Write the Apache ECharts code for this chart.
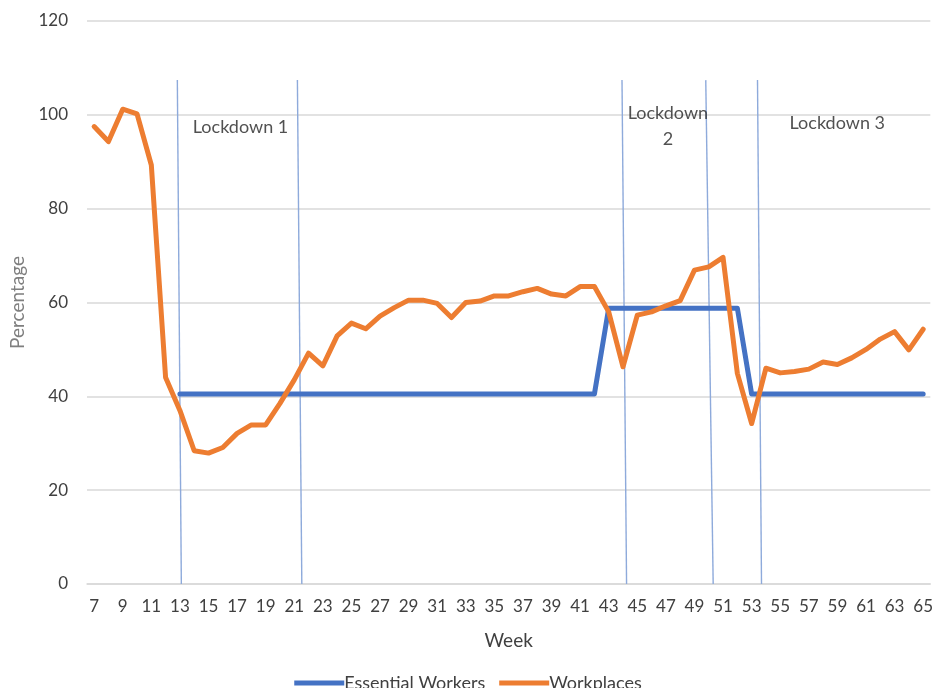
<!DOCTYPE html>
<html>
<head>
<meta charset="utf-8">
<script src="https://cdn.jsdelivr.net/npm/echarts@6/dist/echarts.min.js"></script>
<style>
  html, body { margin: 0; padding: 0; background: #fff; }
  #chart { width: 936px; height: 688px; }
</style>
</head>
<body>
<div id="chart"></div>
<script>
// Weeks shown on the category axis
const weeks = [];
for (let w = 7; w <= 65; w++) weeks.push(String(w));

// Essential workers share (flat levels, absent before week 13)
const essentialWorkers = [
  // weeks 7-12
  null, null, null, null, null, null,
  // weeks 13-42
  40.5, 40.5, 40.5, 40.5, 40.5, 40.5, 40.5, 40.5, 40.5, 40.5,
  40.5, 40.5, 40.5, 40.5, 40.5, 40.5, 40.5, 40.5, 40.5, 40.5,
  40.5, 40.5, 40.5, 40.5, 40.5, 40.5, 40.5, 40.5, 40.5, 40.5,
  // weeks 43-52
  58.8, 58.8, 58.8, 58.8, 58.8, 58.8, 58.8, 58.8, 58.8, 58.8,
  // weeks 53-65
  40.5, 40.5, 40.5, 40.5, 40.5, 40.5, 40.5, 40.5, 40.5, 40.5,
  40.5, 40.5, 40.5
];

// Workplace mobility, weeks 7..65
const workplaces = [
  97.5, 94.3, 101.2, 100.2, 89.3,
  44, 37, 28.4, 27.9, 29.1, 32.1, 33.9, 33.9, 38.5, 43.5,
  49.2, 46.5, 52.9, 55.6, 54.4, 57.1, 58.9, 60.5, 60.5, 59.8,
  56.8, 60, 60.3, 61.4, 61.4, 62.3, 63, 61.8, 61.4, 63.4,
  63.4, 58, 46.3, 57.3, 58, 59.3, 60.4, 66.9, 67.6, 69.6,
  44.9, 34.2, 46, 45, 45.3, 45.8, 47.3, 46.8, 48.2, 50,
  52.2, 53.8, 49.9, 54.3
];

// Lockdown boundary markers (week position at top and at the axis)
const lockdownTopWeek    = [12.82, 21.22, 43.93, 49.79, 53.41];
const lockdownBottomWeek = [13.10, 21.53, 44.25, 50.31, 53.69];
const lockdownTopValue = 107.4;

// Lockdown captions and their anchor (week, percentage)
const lockdownNames = ['Lockdown 1', 'Lockdown\n2', 'Lockdown 3'];
const lockdownLabelWeek = [17.24, 47.14, 58.99];
const lockdownLabelValue = [97.4, 97.6, 98.3];

const yTicks = { min: 0, max: 120, interval: 20 };

const FONT = 'Lato, "Open Sans", sans-serif';

const markerSeries = lockdownTopWeek.map((t, i) => ({
  type: 'line',
  xAxisIndex: 1,
  silent: true,
  symbol: 'none',
  z: 1,
  lineStyle: { color: '#8eaadb', width: 1.4 },
  data: [[t, lockdownTopValue], [lockdownBottomWeek[i], 0]]
}));

const option = {
  animation: false,
  backgroundColor: '#ffffff',
  textStyle: { fontFamily: FONT },
  grid: { left: 87, right: 3, top: 21, bottom: 104, containLabel: false },
  legend: {
    data: ['Essential Workers', 'Workplaces'],
    top: 669,
    left: 'center',
    icon: 'rect',
    itemWidth: 50,
    itemHeight: 5,
    itemGap: 14,
    textStyle: { fontFamily: FONT, fontSize: 18, color: '#404040', padding: [0, 0, 0, -5] }
  },
  xAxis: [
    {
      type: 'category',
      data: weeks,
      boundaryGap: true,
      name: 'Week',
      nameLocation: 'middle',
      nameGap: 47,
      nameTextStyle: { fontFamily: FONT, fontSize: 19, color: '#404040' },
      axisLine: { show: true, lineStyle: { color: '#d9d9d9', width: 1.5 } },
      axisTick: { show: false },
      axisLabel: { interval: 1, margin: 14, fontSize: 17, color: '#404040', fontFamily: FONT },
      splitLine: { show: false }
    },
    {
      type: 'value',
      min: 6.5,
      max: 65.5,
      show: false
    }
  ],
  yAxis: {
    type: 'value',
    min: yTicks.min,
    max: yTicks.max,
    interval: yTicks.interval,
    name: 'Percentage',
    nameLocation: 'middle',
    nameGap: 57,
    nameTextStyle: { fontFamily: FONT, fontSize: 19, color: '#7f7f7f' },
    axisLine: { show: false },
    axisTick: { show: false },
    axisLabel: { margin: 19, fontSize: 17, color: '#404040', fontFamily: FONT },
    splitLine: { lineStyle: { color: '#d9d9d9', width: 1.5 } }
  },
  series: [
    ...markerSeries,
    {
      name: 'Essential Workers',
      type: 'line',
      data: essentialWorkers,
      symbol: 'none',
      z: 3,
      lineStyle: { color: '#4472c4', width: 5, cap: 'round', join: 'round' },
      itemStyle: { color: '#4472c4' }
    },
    {
      name: 'Workplaces',
      type: 'line',
      data: workplaces,
      symbol: 'none',
      z: 4,
      lineStyle: { color: '#ed7d31', width: 5, cap: 'round', join: 'round' },
      itemStyle: { color: '#ed7d31' }
    },
    {
      type: 'scatter',
      xAxisIndex: 1,
      silent: true,
      symbolSize: 0,
      z: 5,
      data: lockdownNames.map((n, i) => ({ value: [lockdownLabelWeek[i], lockdownLabelValue[i]], name: n })),
      label: {
        show: true,
        position: 'inside',
        formatter: p => p.name,
        fontFamily: FONT,
        fontSize: 18,
        lineHeight: 26,
        color: '#262626',
        align: 'center',
        verticalAlign: 'middle'
      }
    }
  ]
};

const chart = echarts.init(document.getElementById('chart'), null, { renderer: 'canvas' });
chart.setOption(option);
</script>
</body>
</html>
